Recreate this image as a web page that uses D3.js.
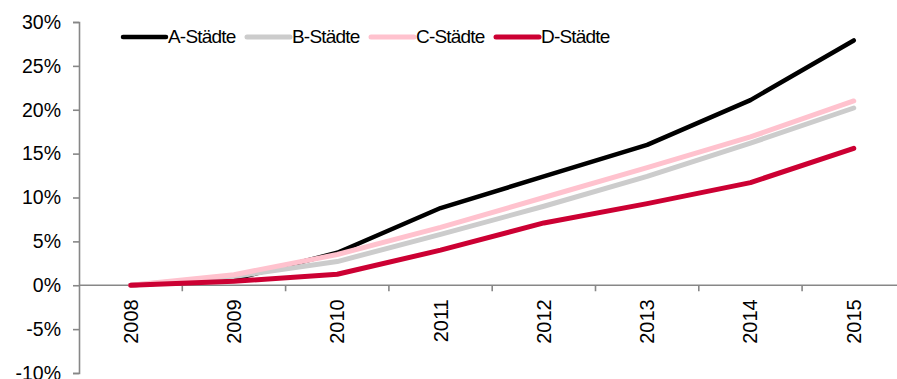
<!DOCTYPE html>
<html>
<head>
<meta charset="utf-8">
<script src="https://cdn.jsdelivr.net/npm/d3@7"></script>
<style>
  html, body { margin: 0; padding: 0; background: #fff; }
  svg { display: block; font-family: "Liberation Sans", Arial, sans-serif; }
</style>
</head>
<body>
<svg id="chart" width="897" height="379"></svg>
<script>
// Cumulative change since 2008, by city class
const years = ["2008", "2009", "2010", "2011", "2012", "2013", "2014", "2015"];
const seriesNames = ["A-Städte", "B-Städte", "C-Städte", "D-Städte"];
const aStaedte = [0, 0.7, 3.7, 8.8, 12.4, 16.0, 21.1, 27.9];
const bStaedte = [0, 1.0, 2.7, 5.8, 9.0, 12.4, 16.2, 20.2];
const cStaedte = [0, 1.2, 3.5, 6.6, 10.0, 13.4, 16.9, 21.0];
const dStaedte = [0, 0.45, 1.25, 4.0, 7.1, 9.3, 11.7, 15.6];
const yTicks = [-10, -5, 0, 5, 10, 15, 20, 25, 30];

const colors = ["#000000", "#cccccc", "#ffc2ce", "#cc0033"];
const widths = [4.5, 5, 5, 5];
const series = [aStaedte, bStaedte, cStaedte, dStaedte];

const svg = d3.select("#chart");

const x = d3.scaleBand().domain(years).range([79, 79 + 8 * 103.3]).paddingInner(0).paddingOuter(0);
const y = d3.scaleLinear().domain([-10, 30]).range([373, 22]);

const axisColor = "#878787";

// Y axis
const yAxis = svg.append("g")
  .attr("transform", "translate(79,0)")
  .call(d3.axisLeft(y).tickValues(yTicks).tickSize(6).tickPadding(12).tickFormat(d => d + "%"));
yAxis.select(".domain").attr("stroke", axisColor).attr("stroke-width", 1.6);
yAxis.selectAll(".tick line").attr("stroke", axisColor).attr("stroke-width", 1.6);
yAxis.selectAll(".tick text").attr("fill", "#000").style("font-size", "19.5px")
  .style("font-family", "'Liberation Sans', Arial, sans-serif");

// X axis along zero line, ticks at category boundaries
const xAxisG = svg.append("g").attr("transform", `translate(0,${y(0)})`);
xAxisG.append("line")
  .attr("x1", 79).attr("x2", 897)
  .attr("stroke", axisColor).attr("stroke-width", 1.6);
xAxisG.selectAll("line.tick")
  .data(years.slice(1))
  .join("line")
  .attr("class", "tick")
  .attr("x1", d => x(d)).attr("x2", d => x(d))
  .attr("y1", 0).attr("y2", 6)
  .attr("stroke", axisColor).attr("stroke-width", 1.6);
xAxisG.selectAll("text")
  .data(years)
  .join("text")
  .attr("transform", d => `translate(${x(d) + x.bandwidth() / 2 + 7},14) rotate(-90)`)
  .attr("text-anchor", "end")
  .style("font-size", "20px")
  .attr("fill", "#000")
  .text(d => d);

// Lines
const line = d3.line()
  .x((d, i) => x(years[i]) + x.bandwidth() / 2)
  .y(d => y(d));

svg.append("g").selectAll("path")
  .data(series)
  .join("path")
  .attr("d", d => line(d))
  .attr("fill", "none")
  .attr("stroke", (d, i) => colors[i])
  .attr("stroke-width", (d, i) => widths[i])
  .attr("stroke-linejoin", "round")
  .attr("stroke-linecap", "round");

// Legend
const legendX = [123, 247, 371, 496];
const legend = svg.append("g").selectAll("g")
  .data(seriesNames)
  .join("g")
  .attr("transform", (d, i) => `translate(${legendX[i]},37)`);
legend.append("line")
  .attr("x1", 0).attr("x2", 43)
  .attr("stroke", (d, i) => colors[i])
  .attr("stroke-width", (d, i) => widths[i])
  .attr("stroke-linecap", "round");
legend.append("text")
  .attr("x", 45)
  .attr("y", 5.5)
  .style("font-size", "19px")
  .style("letter-spacing", "-0.8px")
  .attr("fill", "#000")
  .text(d => d);
</script>
</body>
</html>
